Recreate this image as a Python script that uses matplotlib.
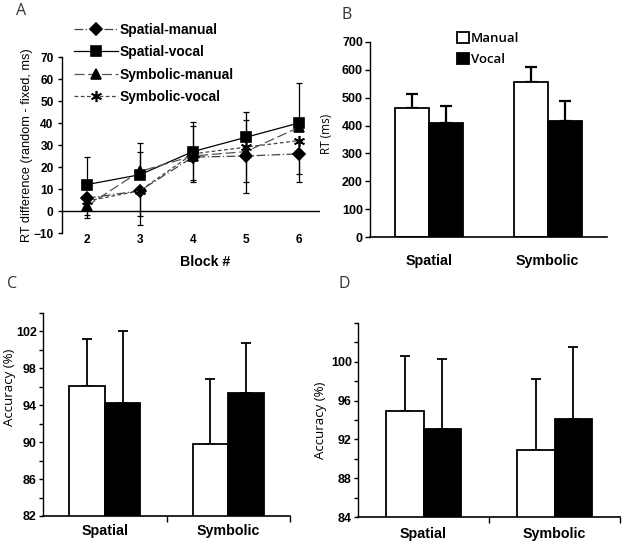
import matplotlib
matplotlib.use("Agg")
import matplotlib.pyplot as plt
from matplotlib.patches import Patch
import numpy as np

# ---- data ----
blocks = [2, 3, 4, 5, 6]
spatial_manual = [5.8, 9.2, 24.5, 25.0, 26.0]
spatial_manual_lo = [0, 15.6, 11.5, 17.0, 12.7]
spatial_manual_hi = [0, 0, 0, 0, 0]
spatial_vocal = [12.0, 16.5, 27.0, 33.5, 40.0]
spatial_vocal_lo = [0, 0, 0, 0, 0]
spatial_vocal_hi = [12.7, 14.5, 13.6, 11.3, 18.0]
symbolic_manual = [2.3, 18.0, 25.0, 27.0, 38.0]
symbolic_manual_lo = [5.5, 0, 0, 0, 0]
symbolic_manual_hi = [0, 9.0, 0, 0, 0]
symbolic_vocal = [4.5, 9.2, 26.0, 29.0, 32.0]
symbolic_vocal_lo = [6.3, 11.3, 12.0, 16.0, 15.2]
symbolic_vocal_hi = [0, 0, 12.6, 12.5, 0]

groups = ["Spatial", "Symbolic"]
rt_manual = [463, 557]
rt_manual_err = [50, 55]
rt_vocal = [410, 416]
rt_vocal_err = [62, 72]

accC_manual = [96.1, 89.85]
accC_manual_err = [5.1, 6.95]
accC_vocal = [94.3, 95.3]
accC_vocal_err = [7.75, 5.4]

accD_manual = [94.96, 90.89]
accD_manual_err = [5.67, 7.3]
accD_vocal = [93.1, 94.1]
accD_vocal_err = [7.18, 7.43]

BOLD = "Liberation Sans"
SOFT = "Open Sans"

W, H = 624, 546
fig = plt.figure(figsize=(W / 100, H / 100), dpi=100)


def box(l, t, r, b):
    return [l / W, 1 - b / H, (r - l) / W, (b - t) / H]


def letter(x, y, s):
    fig.text(x / W, 1 - y / H, s, family=SOFT, fontsize=11.5, color="#333333",
             ha="center", va="center")


# ---- panel A ----
ax = fig.add_axes(box(62, 57, 320, 233))
series = [
    ("Spatial-manual", spatial_manual, spatial_manual_lo, spatial_manual_hi, "D", (0, (7, 2, 1, 2)), "#444444", 6),
    ("Spatial-vocal", spatial_vocal, spatial_vocal_lo, spatial_vocal_hi, "s", "-", "black", 7.5),
    ("Symbolic-manual", symbolic_manual, symbolic_manual_lo, symbolic_manual_hi, "^", (0, (8, 3)), "#555555", 6.5),
    ("Symbolic-vocal", symbolic_vocal, symbolic_vocal_lo, symbolic_vocal_hi, (6, 2, 0), (0, (3, 2)), "#444444", 8),
]
for name, vals, lo, hi, mk, ls, col, ms in series:
    ax.errorbar(blocks, vals, yerr=[lo, hi], fmt="none", ecolor="black",
                elinewidth=0.9, capsize=2.5, capthick=0.9, zorder=2)
    ax.plot(blocks, vals, linestyle=ls, color=col, lw=0.9, marker=mk, ms=ms,
            mfc="black", mec="black", mew=1.2, label=name, zorder=3)
ax.set_xlim(1.53, 6.4)
ax.set_ylim(-10, 70)
ax.set_yticks(np.arange(-10, 71, 10))
ax.set_xticks(blocks)
ax.axhline(0, color="black", lw=1.0, zorder=1)
for s in ["top", "right", "bottom"]:
    ax.spines[s].set_visible(False)
ax.spines["left"].set_linewidth(1.0)
ax.tick_params(axis="y", length=3, width=1, pad=3)
ax.tick_params(axis="x", length=0, pad=1)
for lab in ax.get_xticklabels() + ax.get_yticklabels():
    lab.set_family(BOLD)
    lab.set_fontweight("bold")
    lab.set_fontsize(8.6)
ax.set_ylabel("RT difference (random - fixed, ms)", family=BOLD, fontsize=9.2)
ax.yaxis.set_label_coords((33 - 62) / 258, 0.5)
ax.set_xlabel("Block #", family=BOLD, fontweight="bold", fontsize=10.2)
ax.xaxis.set_label_coords((205 - 62) / 258, -(255 - 233) / 176)
leg = ax.legend(loc="upper left", bbox_to_anchor=(74 / W, 1 - 23 / H),
                bbox_transform=fig.transFigure, frameon=False, borderpad=0,
                borderaxespad=0, handlelength=3.2, handletextpad=0.15,
                labelspacing=0.6, numpoints=1,
                prop={"family": BOLD, "weight": "bold", "size": 9.9})
letter(21, 11, "A")


def bar_panel(rect, ylim, manual, m_err, vocal, v_err, offs, width, lw_err, cap, ticklen):
    ax = fig.add_axes(rect)
    x = np.array([0.5, 1.5])
    ax.bar(x - offs, manual, width, color="white", edgecolor="black", lw=1.3, zorder=2)
    ax.bar(x + offs, vocal, width, color="black", edgecolor="black", lw=1.3, zorder=2)
    ax.errorbar(x - offs, manual, yerr=[[0, 0], m_err], fmt="none", ecolor="black",
                elinewidth=lw_err, capsize=cap, capthick=lw_err, zorder=1)
    ax.errorbar(x + offs, vocal, yerr=[[0, 0], v_err], fmt="none", ecolor="black",
                elinewidth=lw_err, capsize=cap, capthick=lw_err, zorder=1)
    ax.set_xlim(0, 2)
    ax.set_ylim(*ylim)
    ax.set_xticks(x)
    ax.set_xticklabels(groups)
    for s in ["top", "right"]:
        ax.spines[s].set_visible(False)
    ax.spines["left"].set_linewidth(1.0)
    ax.spines["bottom"].set_linewidth(1.2)
    ax.tick_params(axis="y", which="both", length=ticklen, width=1, pad=1.5)
    for lab in ax.get_yticklabels():
        lab.set_family(BOLD)
        lab.set_fontweight("bold")
        lab.set_fontsize(9)
    for lab in ax.get_xticklabels():
        lab.set_family(BOLD)
        lab.set_fontweight("bold")
        lab.set_fontsize(10.3)
    return ax


# ---- panel B ----
axb = bar_panel(box(370, 42, 607, 237), (0, 700), rt_manual, rt_manual_err,
                rt_vocal, rt_vocal_err, 0.144, 0.288, 1.6, 4, 3.6)
axb.set_yticks(np.arange(0, 701, 100))
axb.tick_params(axis="x", length=0, pad=12)
axb.set_ylabel("RT (ms)", family=SOFT, fontsize=8.5)
axb.yaxis.set_label_coords((333 - 370) / 237, (237 - 134) / 195)
axb.legend(handles=[Patch(facecolor="white", edgecolor="black", lw=1.3, label="Manual"),
                    Patch(facecolor="black", edgecolor="black", lw=1.3, label="Vocal")],
           loc="upper left", bbox_to_anchor=(457 / W, 1 - 32 / H),
           bbox_transform=fig.transFigure, frameon=False, borderpad=0,
           borderaxespad=0, handlelength=0.9, handleheight=0.9,
           handletextpad=0.15, labelspacing=0.6,
           prop={"family": SOFT, "weight": "semibold", "size": 9.5})
letter(347, 15, "B")

# ---- panel C ----
axc = bar_panel(box(43, 313, 290, 516), (82, 104), accC_manual, accC_manual_err,
                accC_vocal, accC_vocal_err, 0.144, 0.29, 1.3, 3.5, 3)
axc.set_yticks(np.arange(82, 103, 4))
axc.set_yticks(np.arange(82, 105, 2), minor=True)
axc.set_xticks([1, 2], minor=True)
axc.tick_params(axis="x", which="major", length=0, pad=6)
axc.tick_params(axis="x", which="minor", length=4, width=1, direction="out")
axc.set_ylabel("Accuracy (%)", family=SOFT, fontsize=9.5)
axc.yaxis.set_label_coords((16 - 43) / 247, (516 - 387) / 203)
letter(12, 284, "C")

# ---- panel D ----
axd = bar_panel(box(358, 323, 620, 517), (84, 104), accD_manual, accD_manual_err,
                accD_vocal, accD_vocal_err, 0.145, 0.29, 1.3, 3.5, 3)
axd.set_yticks(np.arange(84, 101, 4))
axd.set_yticks(np.arange(84, 105, 2), minor=True)
axd.set_xticks([1, 2], minor=True)
axd.tick_params(axis="x", which="major", length=0, pad=7)
axd.tick_params(axis="x", which="minor", length=4, width=1, direction="out")
axd.set_ylabel("Accuracy (%)", family=SOFT, fontsize=9.5)
axd.yaxis.set_label_coords((327 - 358) / 262, 0.5)
letter(344, 284, "D")

fig.savefig("out.png", dpi=100)
